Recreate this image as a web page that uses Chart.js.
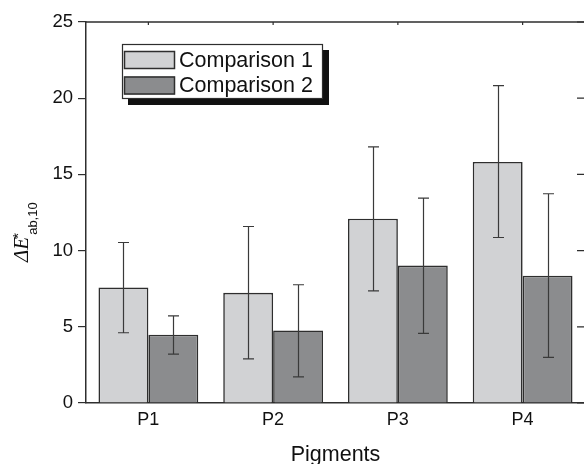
<!DOCTYPE html>
<html><head><meta charset="utf-8">
<style>html,body{margin:0;padding:0;overflow:hidden;background:#fff;width:584px;height:464px}
#wrap{position:relative;width:588px;height:464px}</style>
<script src="https://cdn.jsdelivr.net/npm/chart.js@4.4.0/dist/chart.umd.min.js"></script>
</head><body><div id="wrap"><canvas id="c" width="588" height="464"></canvas></div>
<script>
const categories = ['P1', 'P2', 'P3', 'P4'];
const seriesNames = ['Comparison 1', 'Comparison 2'];
const comparison1 = [7.58, 7.23, 12.09, 15.82];
const comparison2 = [4.48, 4.76, 9.02, 8.35];
const comparison1Low = [4.61, 2.90, 7.36, 10.86];
const comparison1High = [10.53, 11.58, 16.81, 20.83];
const comparison2Low = [3.21, 1.72, 4.57, 2.99];
const comparison2High = [5.72, 7.76, 13.44, 13.73];
const yTicks = [0, 5, 10, 15, 20, 25];
const xTitle = 'Pigments';

const errLow = [comparison1Low, comparison2Low];
const errHigh = [comparison1High, comparison2High];
const AXIS = '#2e2e2e';
const SANS = '"Liberation Sans", Arial, sans-serif';

const errorBars = {
  id: 'errorBars',
  afterDatasetsDraw(chart) {
    const ctx = chart.ctx, ys = chart.scales.y;
    ctx.save();
    ctx.strokeStyle = '#3a3a3a';
    ctx.lineWidth = 1.2;
    chart.data.datasets.forEach((ds, i) => {
      const meta = chart.getDatasetMeta(i);
      meta.data.forEach((bar, j) => {
        const x = Math.round(bar.x) + 0.5;
        const yh = ys.getPixelForValue(errHigh[i][j]);
        const yl = ys.getPixelForValue(errLow[i][j]);
        ctx.beginPath();
        ctx.moveTo(x, yh); ctx.lineTo(x, yl);
        ctx.moveTo(x - 5.5, yh); ctx.lineTo(x + 5.5, yh);
        ctx.moveTo(x - 5.5, yl); ctx.lineTo(x + 5.5, yl);
        ctx.stroke();
      });
    });
    ctx.restore();
  }
};

const frame = {
  id: 'frame',
  afterDraw(chart) {
    const ctx = chart.ctx, a = chart.chartArea, ys = chart.scales.y, xs = chart.scales.x;
    ctx.save();
    ctx.strokeStyle = AXIS;
    ctx.lineWidth = 1.5;
    ctx.beginPath();
    ctx.moveTo(a.left, a.top); ctx.lineTo(a.right, a.top);
    ctx.moveTo(a.right, a.top); ctx.lineTo(a.right, a.bottom);
    ctx.stroke();
    ctx.lineWidth = 1.2;
    ctx.beginPath();
    yTicks.forEach(v => {
      const y = ys.getPixelForValue(v);
      ctx.moveTo(a.right, y); ctx.lineTo(a.right - 8, y);
    });
    categories.forEach((c, i) => {
      const x = xs.getPixelForValue(i);
      ctx.moveTo(x, a.top); ctx.lineTo(x, a.top + 3);
    });
    ctx.stroke();

    // legend
    const bx = a.left + 36, by = a.top + 22, bw = 201, bh = 55;
    ctx.fillStyle = '#111';
    ctx.fillRect(bx + 6, by + 6, bw, bh);
    ctx.fillStyle = '#fff';
    ctx.fillRect(bx, by, bw, bh);
    ctx.lineWidth = 1.2;
    ctx.strokeStyle = AXIS;
    ctx.strokeRect(bx + 0.5, by + 0.5, bw - 1, bh - 1);
    chart.data.datasets.forEach((ds, i) => {
      const sy = by + 7 + i * 25.5;
      ctx.fillStyle = ds.backgroundColor;
      ctx.fillRect(bx + 2, sy, 51, 18);
      ctx.lineWidth = 1.5;
      ctx.strokeStyle = AXIS;
      ctx.strokeRect(bx + 2.5, sy + 0.5, 50, 17);
      ctx.fillStyle = '#111';
      ctx.font = '21.5px ' + SANS;
      ctx.textBaseline = 'middle';
      ctx.textAlign = 'left';
      ctx.fillText(ds.label, bx + 57, sy + 10);
    });

    // x title
    ctx.fillStyle = '#111';
    ctx.font = '21.5px ' + SANS;
    ctx.textAlign = 'center';
    ctx.textBaseline = 'alphabetic';
    ctx.fillText(xTitle, (a.left + a.right) / 2, 461);

    // y title: ΔE*_{ab,10}
    ctx.save();
    ctx.translate(28, 262);
    ctx.rotate(-Math.PI / 2);
    ctx.textAlign = 'left';
    ctx.textBaseline = 'alphabetic';
    ctx.font = 'italic 21px "Liberation Serif", "Times New Roman", serif';
    const main = '\u0394E';
    ctx.fillText(main, 0, 0);
    const w = ctx.measureText(main).width;
    ctx.font = '15px ' + SANS;
    ctx.fillText('*', w - 2, -5);
    ctx.font = '13px ' + SANS;
    ctx.fillText('ab,10', w + 2, 9);
    ctx.restore();
    ctx.restore();
  }
};

new Chart(document.getElementById('c'), {
  type: 'bar',
  data: {
    labels: categories,
    datasets: [
      { label: seriesNames[0], data: comparison1, backgroundColor: '#d1d2d4', borderColor: AXIS, borderWidth: 1.6 },
      { label: seriesNames[1], data: comparison2, backgroundColor: '#8b8c8e', borderColor: AXIS, borderWidth: 1.6 }
    ]
  },
  options: {
    responsive: false,
    devicePixelRatio: 1,
    animation: false,
    layout: { padding: { top: 22, left: 0, right: 3, bottom: 0 } },
    datasets: { bar: { categoryPercentage: 0.8, barPercentage: 1.0 } },
    plugins: { legend: { display: false }, tooltip: { enabled: false } },
    scales: {
      x: {
        offset: true,
        grid: { display: false, drawTicks: false },
        border: { display: true, color: AXIS, width: 1.5 },
        ticks: { color: '#111', padding: 6, font: { size: 18, family: SANS } },
        afterFit: s => { s.height = 61; }
      },
      y: {
        min: 0, max: 25,
        afterBuildTicks: s => { s.ticks = yTicks.map(v => ({ value: v })); },
        grid: { drawOnChartArea: false, drawTicks: true, tickLength: 8, color: AXIS, lineWidth: 1.2 },
        border: { display: true, color: AXIS, width: 1.5 },
        ticks: { color: '#111', padding: 5, font: { size: 18.5, family: SANS } },
        afterFit: s => { s.width = 86; }
      }
    }
  },
  plugins: [errorBars, frame]
});
</script></body></html>
